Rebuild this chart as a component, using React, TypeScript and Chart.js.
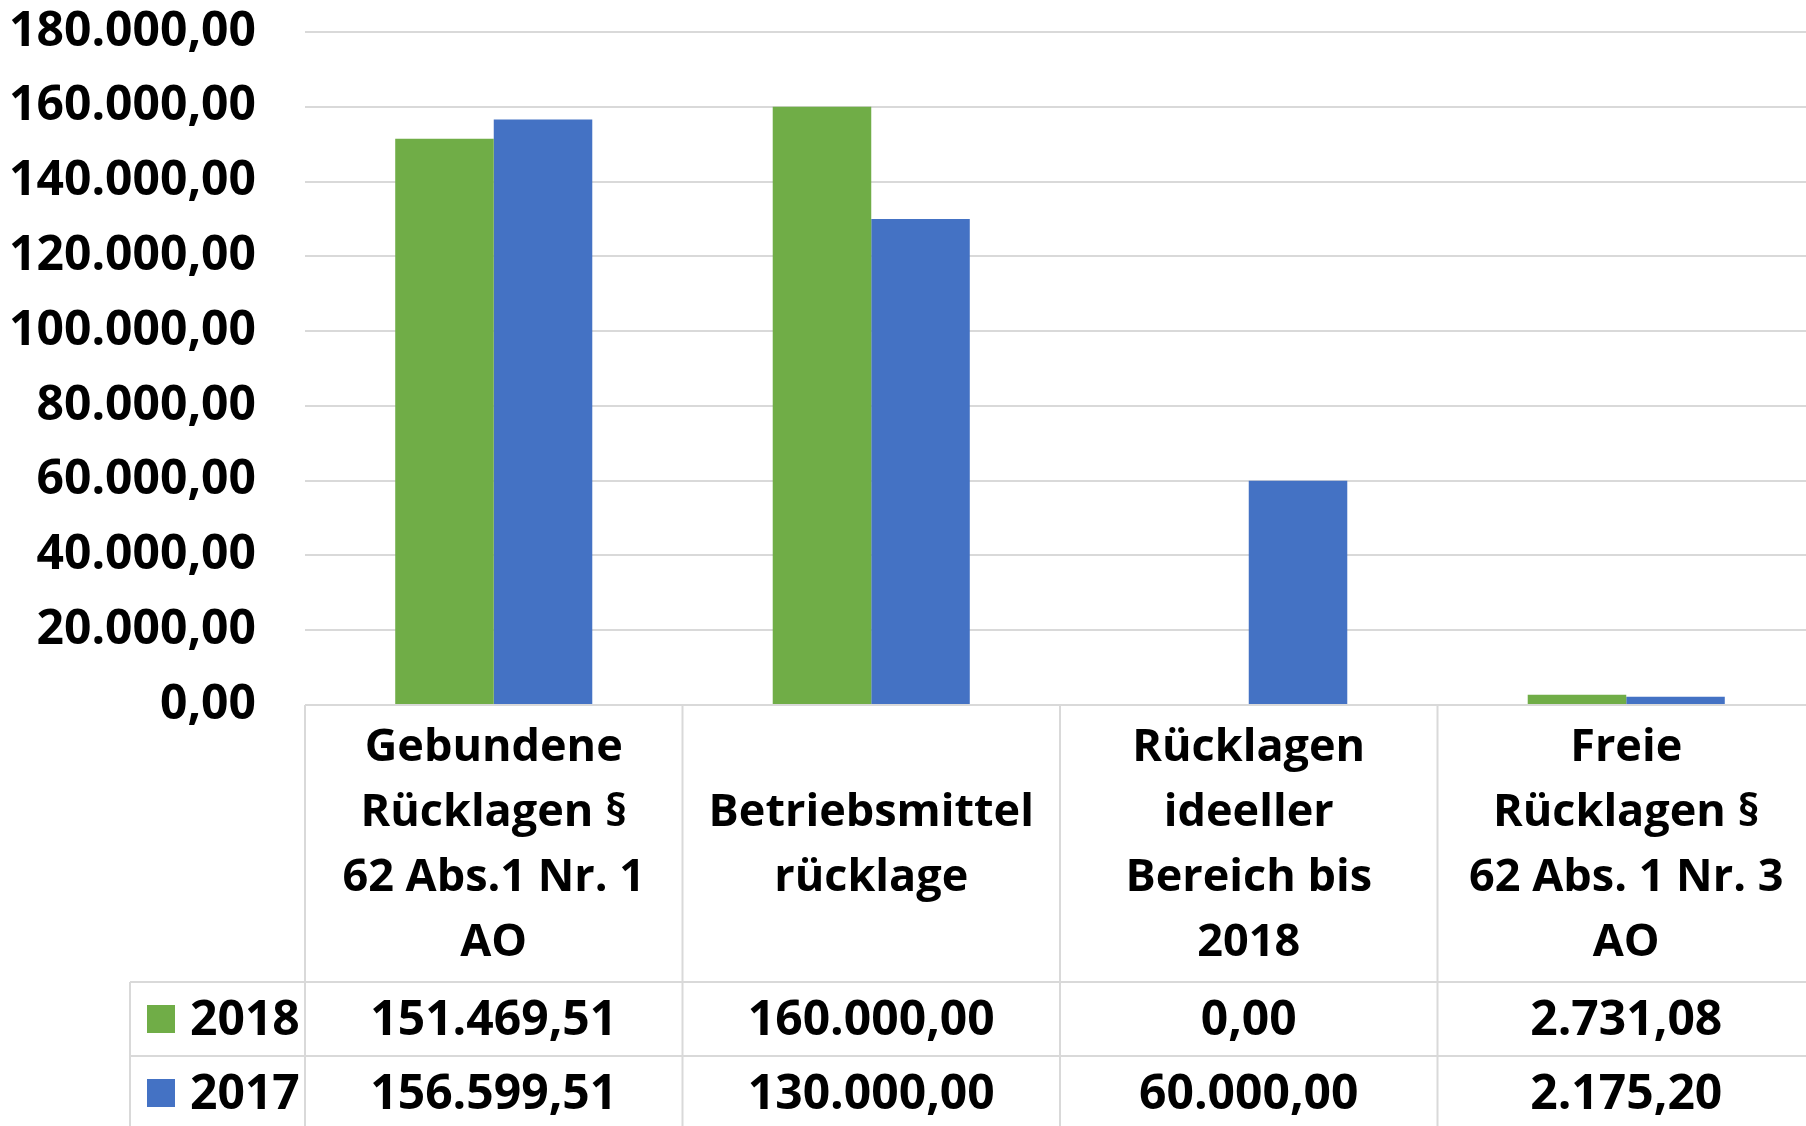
import React, { useEffect, useRef } from "react";
import { Chart, registerables } from "chart.js";

Chart.register(...registerables);

const categoryLines: string[][] = [
  ["Gebundene", "Rücklagen §", "62 Abs.1 Nr. 1", "AO"],
  ["Betriebsmittel", "rücklage"],
  ["Rücklagen", "ideeller", "Bereich bis", "2018"],
  ["Freie", "Rücklagen §", "62 Abs. 1 Nr. 3", "AO"],
];
const seriesNames = ["2018", "2017"];
const values2018 = [151469.51, 160000.0, 0.0, 2731.08];
const values2017 = [156599.51, 130000.0, 60000.0, 2175.2];
const seriesColors = ["#70AD47", "#4472C4"];
const yMin = 0;
const yMax = 180000;
const yStep = 20000;

const FONT_FAMILY = '"Open Sans", "Noto Sans", sans-serif';
const FONT_SIZE = 48;
const CAT_FONT_SIZE = 45;

function fmtDE(v: number): string {
  const neg = v < 0;
  const fixed = Math.abs(v).toFixed(2);
  const [intPart, dec] = fixed.split(".");
  const withDots = intPart.replace(/\B(?=(\d{3})+(?!\d))/g, ".");
  return (neg ? "-" : "") + withDots + "," + dec;
}

const tablePlugin = {
  id: "dataTable",
  afterDraw(chart: any) {
    const ctx = chart.ctx as CanvasRenderingContext2D;
    const area = chart.chartArea;
    const xs = chart.scales.x;
    const n = categoryLines.length;
    const colW = (area.right - area.left) / n;
    const top = area.bottom;
    const catRowBottom = 982;
    const rowH = 74;
    const legendLeft = 130;
    const bottom = catRowBottom + rowH * 2 + 10;
    const lineColor = "#D9D9D9";

    ctx.save();
    ctx.strokeStyle = lineColor;
    ctx.lineWidth = 2;
    ctx.beginPath();
    ctx.moveTo(area.left, top);
    ctx.lineTo(chart.width, top);
    ctx.stroke();
    for (let i = 0; i <= n; i++) {
      const x = area.left + colW * i;
      ctx.beginPath();
      ctx.moveTo(x, top);
      ctx.lineTo(x, bottom);
      ctx.stroke();
    }
    ctx.beginPath();
    ctx.moveTo(legendLeft, catRowBottom);
    ctx.lineTo(legendLeft, bottom);
    ctx.stroke();
    for (let r = 0; r <= 2; r++) {
      const y = catRowBottom + rowH * r;
      ctx.beginPath();
      ctx.moveTo(legendLeft, y);
      ctx.lineTo(chart.width, y);
      ctx.stroke();
    }

    ctx.fillStyle = "#000000";
    ctx.font = `bold ${CAT_FONT_SIZE}px ${FONT_FAMILY}`;
    ctx.textAlign = "center";
    ctx.textBaseline = "middle";
    const lineH = 65;
    const catCenterY = (top + catRowBottom) / 2;
    for (let i = 0; i < n; i++) {
      const cx = xs.getPixelForValue(i);
      const lines = categoryLines[i];
      const startY = catCenterY - ((lines.length - 1) * lineH) / 2;
      lines.forEach((ln, k) => {
        ctx.fillText(ln, cx, startY + k * lineH + 2);
      });
    }

    ctx.font = `bold ${FONT_SIZE}px ${FONT_FAMILY}`;
    const allSeries = [values2018, values2017];
    allSeries.forEach((vals, r) => {
      const cy = catRowBottom + rowH * r + rowH / 2;
      ctx.fillStyle = seriesColors[r];
      ctx.fillRect(147, cy - 14, 28, 28);
      ctx.fillStyle = "#000000";
      ctx.textAlign = "left";
      ctx.fillText(seriesNames[r], 190, cy + 2);
      ctx.textAlign = "center";
      vals.forEach((v, i) => {
        const cx = xs.getPixelForValue(i);
        ctx.fillText(fmtDE(v), cx, cy + 2);
      });
    });
    ctx.restore();
  },
};

export default function App() {
  const canvasRef = useRef<HTMLCanvasElement | null>(null);

  useEffect(() => {
    document.body.style.margin = "0";
    document.body.style.overflow = "hidden";
    const canvas = canvasRef.current;
    if (!canvas) return;
    const chart = new Chart(canvas, {
      type: "bar",
      data: {
        labels: categoryLines.map((l) => l.join(" ")),
        datasets: [
          {
            label: seriesNames[0],
            data: values2018,
            backgroundColor: seriesColors[0],
            barPercentage: 1,
            categoryPercentage: 0.522,
          },
          {
            label: seriesNames[1],
            data: values2017,
            backgroundColor: seriesColors[1],
            barPercentage: 1,
            categoryPercentage: 0.522,
          },
        ],
      },
      options: {
        responsive: false,
        animation: false,
        devicePixelRatio: 1,
        layout: { padding: { top: 32, bottom: 421, left: 0, right: 0 } },
        plugins: {
          legend: { display: false },
          tooltip: { enabled: false },
        },
        scales: {
          x: { display: false },
          y: {
            min: yMin,
            max: yMax,
            border: { display: false },
            grid: { color: "#D9D9D9", lineWidth: 2, drawTicks: false },
            afterFit(scale: any) {
              scale.width = 305;
              scale.paddingTop = 0;
              scale.paddingBottom = 0;
            },
            ticks: {
              stepSize: yStep,
              padding: 49,
              color: "#000000",
              font: { family: FONT_FAMILY, size: FONT_SIZE, weight: "bold" },
              callback: (v: any) => fmtDE(Number(v)),
            },
          },
        },
      },
      plugins: [tablePlugin],
    });
    return () => chart.destroy();
  }, []);

  return (
    <canvas
      ref={canvasRef}
      width={1815}
      height={1126}
      style={{ display: "block", width: "1815px", height: "1126px" }}
    />
  );
}
